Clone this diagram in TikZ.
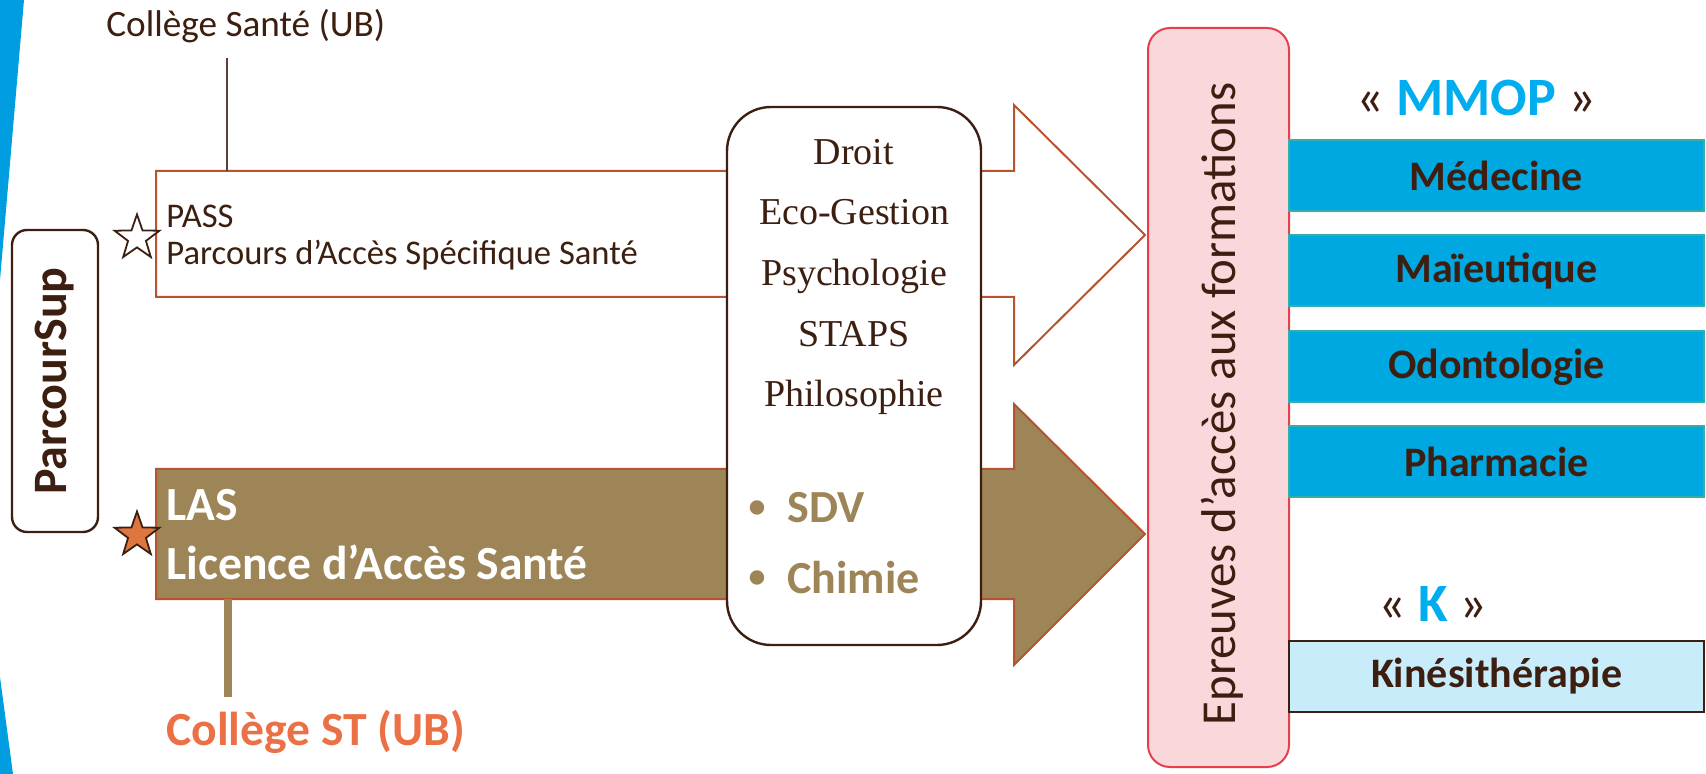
\documentclass[tikz,border=0pt]{standalone}
\usepackage{fontspec}
\setmainfont{Carlito}
\newfontfamily\seriffont{Liberation Serif}
\usetikzlibrary{shapes.geometric}
\definecolor{dbrown}{HTML}{3C1F10}
\definecolor{arrowred}{HTML}{B8532F}
\definecolor{tanc}{HTML}{9D8557}
\definecolor{orangec}{HTML}{EB7046}
\definecolor{starorange}{HTML}{E0763F}
\definecolor{pinkfill}{HTML}{F9D7DB}
\definecolor{pinkborder}{HTML}{E5414B}
\definecolor{medblue}{HTML}{00A8E1}
\definecolor{tealb}{HTML}{35AFA5}
\definecolor{mmopblue}{HTML}{00ADEF}
\definecolor{kfill}{HTML}{C9ECFB}
\definecolor{stripe}{HTML}{009EE0}
\definecolor{thinline}{HTML}{5A4035}
\tikzset{
  arrowline/.style={draw=arrowred, line width=1pt, line join=miter},
  lefttext/.style={anchor=base west, inner sep=0, text=dbrown},
  serifitem/.style={anchor=base, inner sep=0, text=dbrown, font=\seriffont\fontsize{19}{22}\selectfont},
  bulletitem/.style={anchor=base west, inner sep=0, text=tanc, font=\bfseries\fontsize{23}{27}\selectfont},
  bulletdot/.style={anchor=base, inner sep=0, text=tanc, font=\bfseries\fontsize{17}{20}\selectfont},
  medbox/.style={draw=tealb, fill=medblue, line width=1pt, minimum width=207.5pt, minimum height=35.5pt, inner sep=0, text=dbrown, font=\bfseries\fontsize{21}{25}\selectfont},
  kinebox/.style={medbox, draw=dbrown, fill=kfill},
  starshape/.style={star, star points=5, star point ratio=2.5, minimum size=23.5pt, inner sep=0, draw=dbrown, line width=0.9pt},
}
\begin{document}
\begin{tikzpicture}[x=0.5pt,y=-0.5pt]
\useasboundingbox (0,0) rectangle (1706,774);
% blue stripe pieces
\fill[stripe] (0,0) -- (24,0) -- (0,280) -- cycle;
\fill[stripe] (0,677) -- (13,774) -- (0,774) -- cycle;
% arrows
\draw[arrowline, fill=white] (156,171) -- (1014,171) -- (1014,105) -- (1145,235) -- (1014,365) -- (1014,297) -- (156,297) -- cycle;
\draw[arrowline, fill=tanc] (156,469) -- (1014,469) -- (1014,404) -- (1145,534) -- (1014,665) -- (1014,599) -- (156,599) -- cycle;
% college sante
\node[lefttext, font=\fontsize{18.6}{22}\selectfont] (cs) at (106,37) {Collège Santé (UB)};
\coordinate (csline) at (227,58);
\coordinate (passtop) at (227,171);
\draw[thinline, line width=0.8pt] (csline) -- (passtop);
% PASS text
\node[lefttext, font=\fontsize{17.3}{20}\selectfont] (pass1) at (166,228) {PASS};
\node[lefttext, font=\fontsize{17.3}{20}\selectfont] (pass2) at (166,265) {Parcours d’Accès Spécifique Santé};
% LAS text
\node[lefttext, text=white, font=\bfseries\fontsize{23.8}{27}\selectfont] (las1) at (166,520) {LAS};
\node[lefttext, text=white, font=\bfseries\fontsize{23.8}{27}\selectfont] (las2) at (166,579) {Licence d’Accès Santé};
\coordinate (lasbottom) at (228,599);
\coordinate (cstline) at (228,697);
\draw[tanc, line width=4pt] (lasbottom) -- (cstline);
\node[lefttext, text=orangec, font=\bfseries\fontsize{23.8}{28}\selectfont] (cst) at (166,745) {Collège ST (UB)};
% stars
\node[starshape, fill=white] (s1) at (137,238) {};
\node[starshape, fill=starorange] (s2) at (137,535) {};
% ParcourSup
\node[draw=dbrown, line width=1.2pt, rounded corners=7.5pt, rotate=90, minimum width=151pt, minimum height=43pt, inner sep=0, text=dbrown, font=\bfseries\fontsize{24}{28}\selectfont] (ps) at (55,381) {ParcourSup};
% middle box
\node[draw=dbrown, fill=white, line width=1.2pt, rounded corners=22pt, minimum width=127pt, minimum height=269pt, inner sep=0] (mid) at (854,376) {};
\node[serifitem] (l1) at (854,165) {Droit};
\node[serifitem] (l2) at (854,225) {Eco-Gestion};
\node[serifitem] (l3) at (854,286) {Psychologie};
\node[serifitem] (l4) at (854,347) {STAPS};
\node[serifitem] (l5) at (854,407) {Philosophie};
\node[bulletdot] (b1) at (757,517) {•};
\node[bulletitem] (sdv) at (787,523) {SDV};
\node[bulletdot] (b2) at (757,587) {•};
\node[bulletitem] (chim) at (787,593) {Chimie};
% pink box
\node[draw=pinkborder, fill=pinkfill, line width=1pt, rounded corners=11pt, minimum width=70.5pt, minimum height=369.5pt, inner sep=0] (pink) at (1218.5,397.5) {};
\node[rotate=90, inner sep=0, text=dbrown, font=\fontsize{24.4}{28}\selectfont] (epr) at (1222,404) {Epreuves d’accès aux formations};
% MMOP
\node[anchor=base, inner sep=0, text=dbrown, font=\fontsize{27}{31}\selectfont] (mmop) at (1476,116) {« {\color{mmopblue}\bfseries MMOP} »};
\node[medbox] (med) at (1496.5,175.5) {Médecine};
\node[medbox] (mai) at (1496.5,271) {Maïeutique};
\node[medbox] (odo) at (1496.5,367) {Odontologie};
\node[medbox] (pha) at (1496.5,461.5) {Pharmacie};
% K
\node[anchor=base, inner sep=0, text=dbrown, font=\fontsize{27}{31}\selectfont] (kk) at (1433,621) {« {\color{mmopblue}\bfseries K} »};
\node[kinebox] (kin) at (1496.5,676) {Kinésithérapie};
\end{tikzpicture}
\end{document}
